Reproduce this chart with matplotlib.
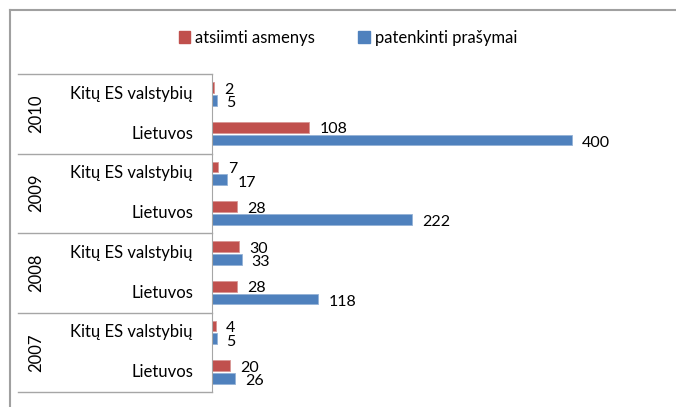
import numpy as np
import matplotlib
matplotlib.use('Agg')
import matplotlib.pyplot as plt
from matplotlib.lines import Line2D
from matplotlib.patches import Patch

plt.rcParams['font.family'] = ['Lato', 'DejaVu Sans']

# Duomenys (iš viršaus į apačią)
metai = ['2010', '2009', '2008', '2007']
salys = ['Kitų ES valstybių', 'Lietuvos']
atsiimti = [2, 108, 7, 28, 30, 28, 4, 20]        # atsiimti asmenys
patenkinti = [5, 400, 17, 222, 33, 118, 5, 26]   # patenkinti prašymai

raudona = '#C0504D'
melyna = '#4F81BD'
pilka = '#A6A6A6'
fs = 12

W, H = 676, 407
fig = plt.figure(figsize=(W / 100, H / 100), dpi=100)
ax = fig.add_axes([212 / W, 1 - 392 / H, 450 / W, 318 / H])

y = np.arange(len(atsiimti))
h = 0.27
ax.barh(y - 0.16, atsiimti, height=h, color=raudona, edgecolor='#D99795', linewidth=0.6)
ax.barh(y + 0.16, patenkinti, height=h, color=melyna, edgecolor='#95B3D7', linewidth=0.6)

# reikšmių žymės
for i in range(len(y)):
    ax.annotate(str(atsiimti[i]), (atsiimti[i], y[i] - 0.16), xytext=(10, -2),
                textcoords='offset pixels', ha='left', va='center', fontsize=11.5)
    ax.annotate(str(patenkinti[i]), (patenkinti[i], y[i] + 0.16), xytext=(10, -3),
                textcoords='offset pixels', ha='left', va='center', fontsize=11.5)

ax.set_xlim(0, 500)
ax.set_ylim(len(y) - 0.5, -0.5)
ax.set_xticks([])
ax.set_yticks([])
for s in ['top', 'right', 'bottom']:
    ax.spines[s].set_visible(False)
ax.spines['left'].set_color(pilka)

# kategorijų lentelė kairėje
tr = ax.get_yaxis_transform()
x0 = (18 - 212) / 450
for b in np.arange(-0.5, len(y), 2):
    ax.plot([x0, 0], [b, b], color=pilka, lw=1, transform=tr, clip_on=False)
for i in range(len(y)):
    ax.text((193 - 212) / 450, y[i], salys[i % 2], transform=tr, ha='right',
            va='center', fontsize=fs)
for j, m in enumerate(metai):
    ax.text((36 - 212) / 450, 2 * j + 0.5, m, transform=tr, ha='center',
            va='center', rotation=90, fontsize=fs)

# išorinis rėmelis
fig.add_artist(Line2D([10 / W, 1], [1 - 10 / H, 1 - 10 / H], color='#A0A0A0', lw=1.5))
fig.add_artist(Line2D([10 / W, 10 / W], [0, 1 - 10 / H], color='#A0A0A0', lw=1.5))

rankenos = [Patch(color=raudona, label='atsiimti asmenys'),
            Patch(color=melyna, label='patenkinti prašymai')]
fig.legend(handles=rankenos, loc='center', bbox_to_anchor=(348 / W, 1 - 38 / H),
           ncol=2, frameon=False, fontsize=fs, handlelength=0.7, handleheight=0.7,
           handletextpad=0.3, columnspacing=2.6)

fig.savefig('out.png', dpi=100)
